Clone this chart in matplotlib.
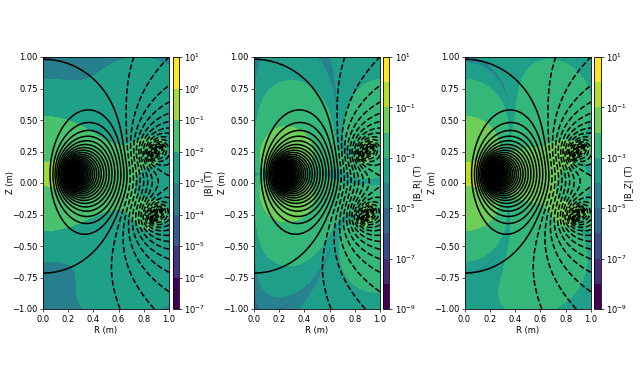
"""
Poloidal field of a three coil set, |B|, |B_R|, |B_Z| with flux contours
The raster has no table behind it: the field is worked out from the coil
positions and currents below, which are estimates read off the picture
"""
import numpy as np
import matplotlib
matplotlib.use('Agg')
import matplotlib.pyplot as plt
from matplotlib.colors import LogNorm

# coil filaments, R (m), Z (m), current (A)
coil_r = [0.25, 0.25, 0.25, 0.25, 0.25, 0.9, 0.87, 0.93, 0.9, 0.87, 0.93]
coil_z = [0.01, 0.04, 0.07, 0.10, 0.13, 0.25, 0.22, 0.28, -0.25, -0.28, -0.22]
coil_i = [10400, 10400, 10400, 10400, 10400, -1735, -1735, -1735, -1735, -1735, -1735]

# decades of the colour levels for each panel
panel_names = ['|B| (T)', '|B_R| (T)', '|B_Z| (T)']
panel_decades = [(-7, 1), (-9, 1), (-9, 1)]
panel_ticks = [[-7, -6, -5, -4, -3, -2, -1, 0, 1],
               [-9, -7, -5, -3, -1, 1],
               [-9, -7, -5, -3, -1, 1]]
# axes left, right and colorbar left in pixels
panel_x = [(43, 169, 172.5), (254, 380, 383), (464.5, 591, 594)]
label_x = [5.0, 4.7, 4.7]

# the first closed flux line passes through this point
flux_point = (0.36, 0.58)
MU0 = 4e-7 * np.pi


def ellip_ke(m):
    # complete elliptic integrals K and E by the AGM
    a = np.ones_like(m)
    b = np.sqrt(1 - m)
    c = np.sqrt(m)
    s = 0.5 * c**2
    p = 1.0
    for _ in range(12):
        a, b, c = (a + b) / 2, np.sqrt(a * b), (a - b) / 2
        p *= 2
        s += 0.5 * p * c**2
    k = np.pi / (2 * a)
    return k, k * (1 - s)


def loop_field(r, z):
    br = np.zeros_like(r)
    bz = np.zeros_like(r)
    psi = np.zeros_like(r)
    for a, z0, cur in zip(coil_r, coil_z, coil_i):
        dz = z - z0
        top = (a + r)**2 + dz**2
        low = (a - r)**2 + dz**2 + 1e-12
        m = np.clip(4 * a * r / top, 0, 1 - 1e-12)
        k, e = ellip_ke(m)
        f = MU0 * cur / (2 * np.pi)
        br += f * dz / (r * np.sqrt(top)) * (-k + (a**2 + r**2 + dz**2) / low * e)
        bz += f / np.sqrt(top) * (k + (a**2 - r**2 - dz**2) / low * e)
        psi += f * np.sqrt(top) * ((1 - m / 2) * k - e)
    return br, bz, psi


r_grid = np.linspace(1e-4, 1, 100)
z_grid = np.linspace(-1, 1, 200)
R, Z = np.meshgrid(r_grid, z_grid)
BR, BZ, PSI = loop_field(R, Z)
BMOD = np.sqrt(BR**2 + BZ**2)

_, _, psi_ref = loop_field(np.array([flux_point[0]]), np.array([flux_point[1]]))
flux_levels = psi_ref[0] * np.arange(-40, 120)

plt.rcParams['font.size'] = 6
plt.rcParams['axes.linewidth'] = 0.6
plt.rcParams['xtick.major.size'] = 2.2
plt.rcParams['ytick.major.size'] = 2.2
plt.rcParams['xtick.major.width'] = 0.5
plt.rcParams['ytick.major.width'] = 0.5
plt.rcParams['xtick.major.pad'] = 2
plt.rcParams['ytick.major.pad'] = 1.5
plt.rcParams['axes.labelpad'] = 1.5

W, H = 640, 378
fig = plt.figure(figsize=(W / 100, H / 100), dpi=100)

fields = [BMOD, np.abs(BR), np.abs(BZ)]
for i, field in enumerate(fields):
    x0, x1, cx = panel_x[i]
    ax = fig.add_axes([x0 / W, 1 - 309 / H, (x1 - x0) / W, (309 - 57) / H])
    cax = fig.add_axes([cx / W, 1 - 309 / H, 6.5 / W, (309 - 57) / H])
    lo, hi = panel_decades[i]
    levels = 10.0 ** np.arange(lo, hi + 1)
    norm = LogNorm(10.0 ** (lo + 0.5), 10.0 ** (hi - 0.5))
    cf = ax.contourf(R, Z, field, levels=levels, norm=norm, cmap='viridis')
    ax.contour(R, Z, PSI, levels=flux_levels, colors='k', linewidths=1.1)
    ax.set_xlim(0, 1)
    ax.set_ylim(-1, 1)
    ax.set_xticks(np.arange(0, 1.01, 0.2))
    ax.set_yticks(np.arange(-1, 1.01, 0.25))
    ax.set_yticklabels([f'{v:.2f}'.replace('-', '\u2212') for v in np.arange(-1, 1.01, 0.25)])
    ax.set_xlabel('R (m)')
    ax.set_ylabel('Z (m)')
    ax.yaxis.set_label_coords(-27.5 / (x1 - x0), 0.5)
    cb = fig.colorbar(cf, cax=cax)
    cb.set_ticks(10.0 ** np.array(panel_ticks[i]))
    cb.minorticks_off()
    cb.set_label(panel_names[i])
    cb.ax.yaxis.set_label_coords(label_x[i], 0.5)

fig.savefig('out.png', dpi=100)
